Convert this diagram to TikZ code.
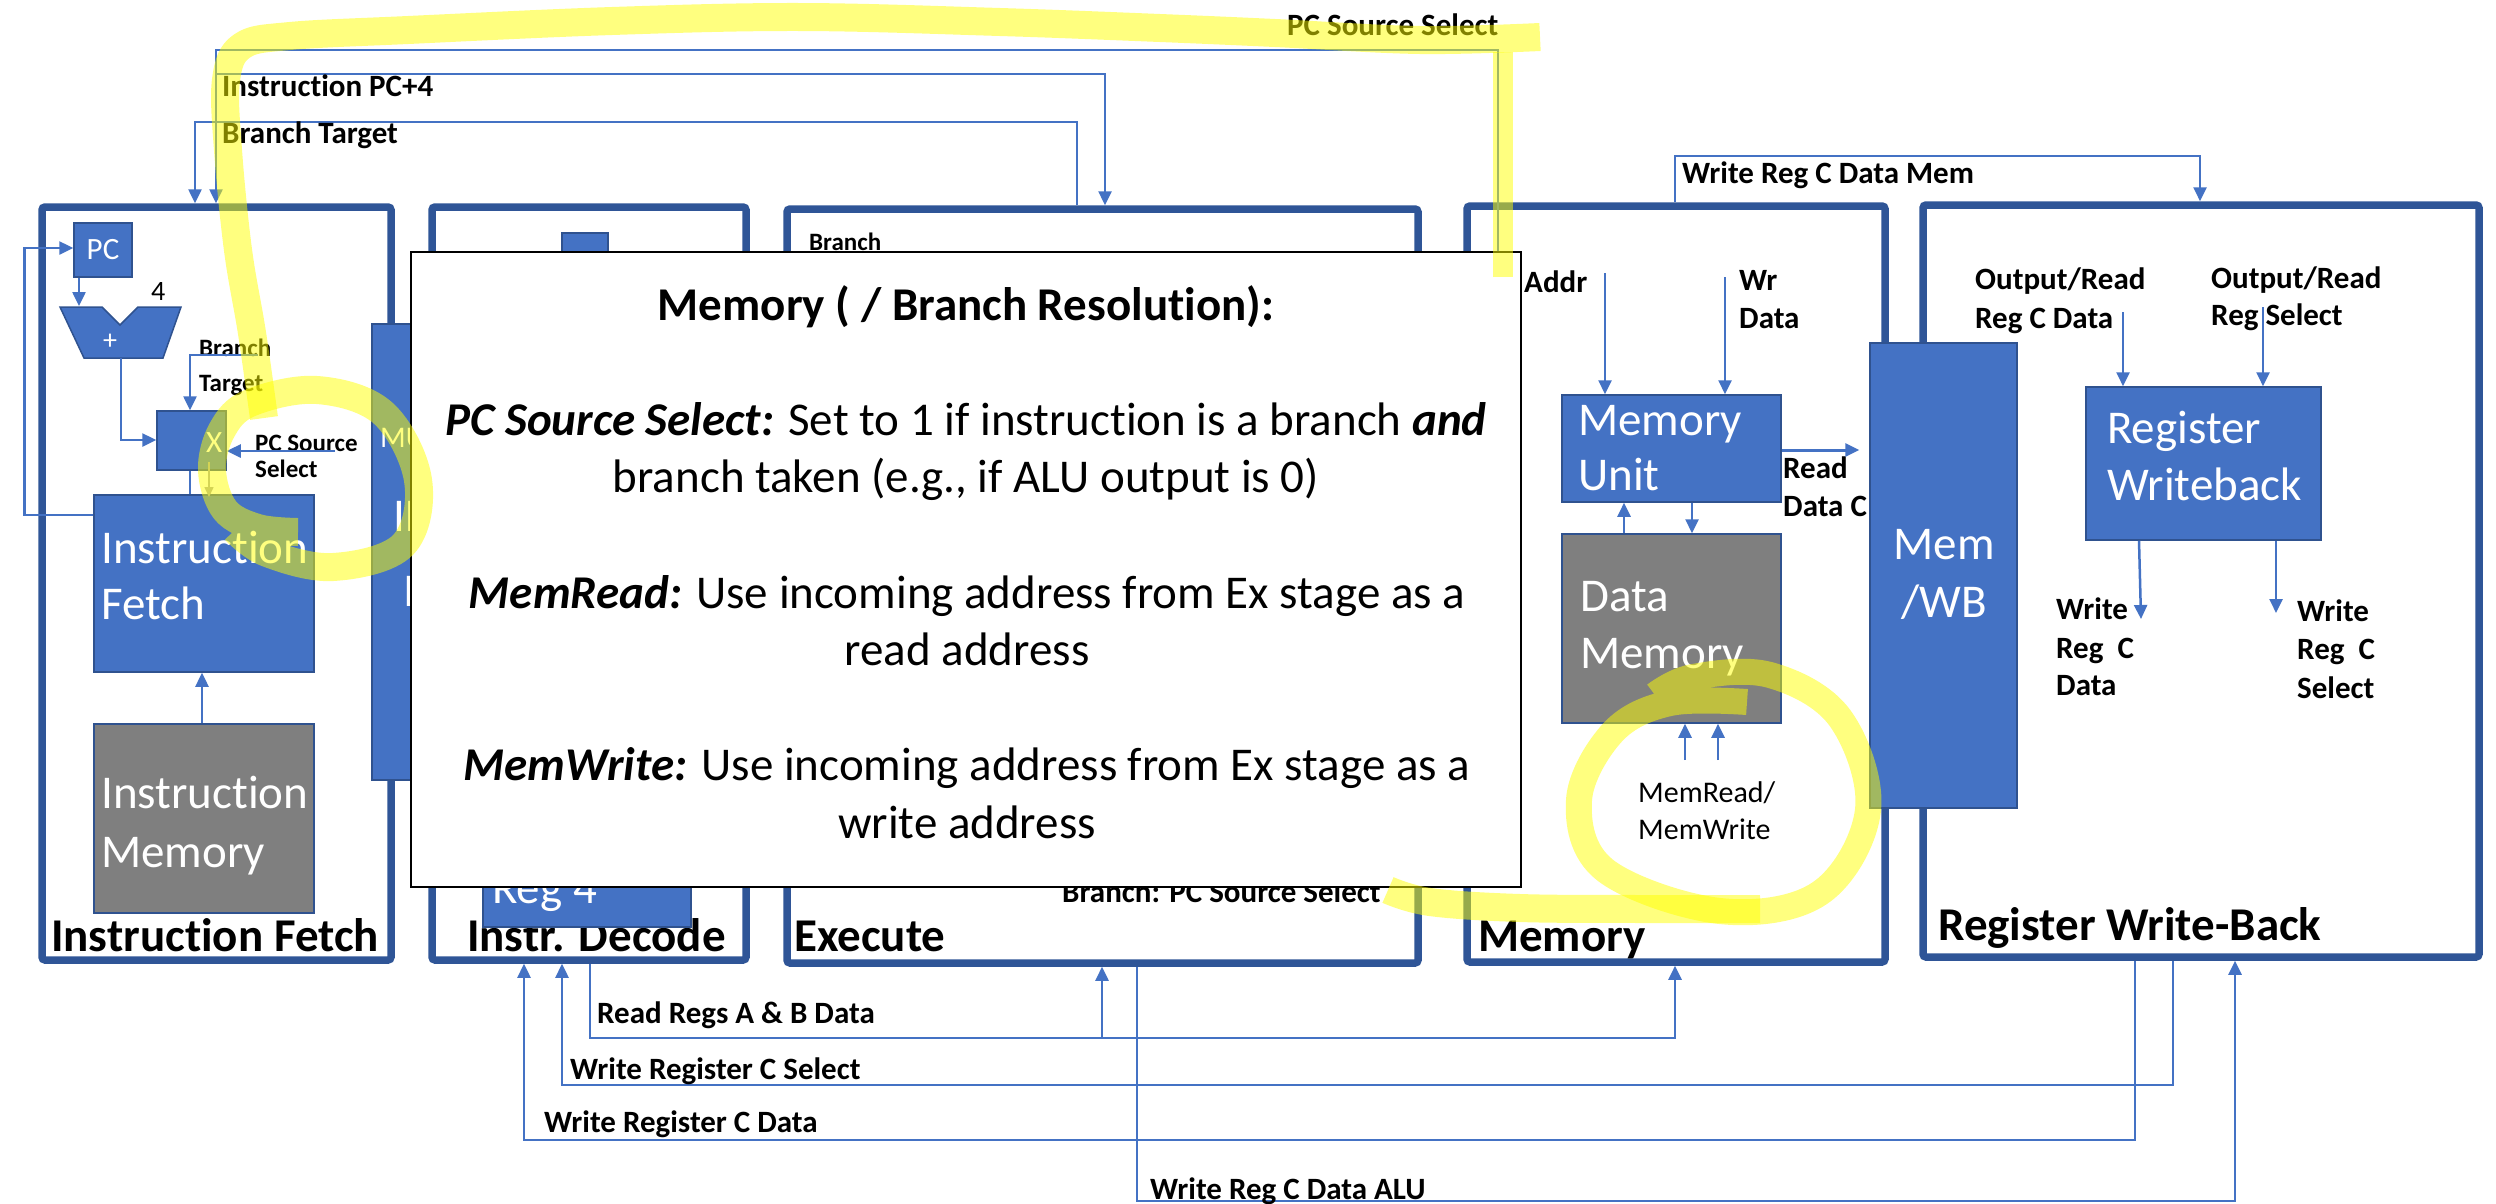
\documentclass[tikz,border=0pt]{standalone}
\usepackage{fontspec}
\setmainfont{Carlito}[Ligatures=NoCommon]
\usetikzlibrary{arrows.meta}

\definecolor{wireblue}{HTML}{4472C4}
\definecolor{stageblue}{HTML}{2F5597}
\definecolor{blockfill}{HTML}{4472C4}
\definecolor{blockedge}{HTML}{2F528F}
\definecolor{memgray}{HTML}{7F7F7F}
\definecolor{hiyellow}{HTML}{FFFF00}
\definecolor{faint}{HTML}{AAAAAA}

\newcommand{\fsBig}{\fontsize{47pt}{56pt}\selectfont}
\newcommand{\fsLbl}{\fontsize{31pt}{38pt}\selectfont}
\newcommand{\fsSmall}{\fontsize{25pt}{30pt}\selectfont}
\newcommand{\fsMR}{\fontsize{30pt}{37pt}\selectfont}

\begin{document}
\begin{tikzpicture}[x=1pt, y=-1pt,
  stagebox/.style={draw=stageblue, line width=7.5pt, rounded corners=3pt, inner sep=0pt},
  blockbox/.style={fill=blockfill, draw=blockedge, line width=1.5pt, inner sep=0pt},
  graybox/.style={fill=memgray, draw=blockedge, line width=1.5pt, inner sep=0pt},
  sig/.style={draw=wireblue, line width=2.5pt},
  arr/.style={sig, -{Triangle[length=14pt,width=13pt]}},
  lbl/.style={anchor=base west, inner sep=0pt, font=\fsLbl\bfseries},
  sml/.style={anchor=base west, inner sep=0pt, font=\fsSmall\bfseries},
  stagelbl/.style={anchor=base west, inner sep=0pt, font=\fsBig\bfseries},
  blktxt/.style={anchor=base west, inner sep=0pt, font=\fsBig, text=white},
  poptxt/.style={anchor=base, inner sep=0pt, font=\fsBig},
  hilite/.style={draw=hiyellow, draw opacity=0.5, line width=#1, line cap=butt, line join=round},
]
\useasboundingbox (0,0) rectangle (2496,1203);
\fill[white] (0,0) rectangle (2496,1203);

% ---------- pipeline stage frames ----------
\node[stagebox, minimum width=349pt, minimum height=753pt] (ifs) at (216.5,583.5) {};
\node[stagebox, minimum width=314pt, minimum height=753pt] (ids) at (589,583.5) {};
\node[stagebox, minimum width=631pt, minimum height=754pt] (exs) at (1102.5,586) {};
\node[stagebox, minimum width=418pt, minimum height=756pt] (mes) at (1676,584) {};
\node[stagebox, minimum width=556pt, minimum height=752pt] (wbs) at (2201,581) {};

\node[stagelbl] (ifslbl) at (51,951) {Instruction Fetch};
\node[stagelbl] (idslbl) at (467,951) {Instr. Decode};
\node[stagelbl] (exslbl) at (794,951) {Execute};
\node[stagelbl] (meslbl) at (1478,951) {Memory};
\node[stagelbl] (wbslbl) at (1938,940) {Register Write-Back};

% ---------- instruction fetch ----------
\node[blockbox, minimum width=58pt, minimum height=54pt, text=white, font=\fsLbl] (pc) at (103,250) {PC};
\draw[blockbox] (60,307) -- (102,307) -- (120,325) -- (138,307) -- (181,307) -- (163,358) -- (84,358) -- cycle;
\coordinate (adder) at (121,332);
\node[text=white, font=\fontsize{28pt}{34pt}\selectfont, inner sep=0pt] (plus) at (110,342) {+};
\node[anchor=base west, inner sep=0pt, font=\fontsize{28pt}{34pt}\selectfont] (four) at (151,300) {4};
\node[blockbox, minimum width=69pt, minimum height=59pt] (mux) at (191.5,440.5) {};
\node[anchor=base west, inner sep=0pt, text=white, font=\fsLbl] (muxx) at (206,452) {X};
\node[blockbox, minimum width=220pt, minimum height=177pt] (ifblk) at (204,583.5) {};
\node[blktxt] (ifblk1) at (101,563) {Instruction};
\node[blktxt] (ifblk2) at (101,619) {Fetch};
\node[graybox, minimum width=220pt, minimum height=189pt] (imem) at (204,818.5) {};
\node[blktxt] (imem1) at (101,808) {Instruction};
\node[blktxt] (imem2) at (101,867) {Memory};

\node[sml] (brlbl1) at (199,356) {Branch};
\node[sml] (brlbl2) at (199,391) {Target};
\node[sml] (pcslbl1) at (255,451) {PC Source};
\node[sml] (pcslbl2) at (255,477) {Select};

\draw[arr] (ifblk.west |- 0,515) -- (24.5,515) -- (24.5,248) -- (pc.west |- 0,248);
\draw[arr] (79,0 |- pc.south) -- (79,306);
\draw[arr] (121,358) -- (121,440) -- (mux.west |- 0,440);
\draw[arr] (258,355) -- (190,355) -- (190,0 |- mux.north);
\draw[arr] (335,451) -- (mux.east |- 0,451);
\draw[sig] (190,0 |- mux.south) -- (190,0 |- ifblk.north);
\draw[draw=faint, line width=1.5pt, -{Triangle[length=10pt,width=9pt]}] (209,462) -- (209,497);
\draw[arr] (202,0 |- imem.north) -- (202,0 |- ifblk.south);

% ---------- instruction decode ----------
\node[blockbox, minimum width=58pt, minimum height=456pt] (ifid) at (401,552) {};
\node[anchor=base west, inner sep=0pt, text=white, font=\fsMR] (ifid1) at (380,447) {MUX};
\node[anchor=base west, inner sep=0pt, text=white, font=\fsBig] (ifid2) at (393,531) {IF};
\node[anchor=base west, inner sep=0pt, text=white, font=\fsBig] (ifid3) at (403,606) {ID};
\node[blockbox, minimum width=46pt, minimum height=70pt] (idtop) at (585,268) {};
\node[blockbox, minimum width=208pt, minimum height=140pt] (reg4) at (587,857) {};
\node[blktxt] (reg4t) at (492,903) {Reg 4};

% ---------- execute ----------
\node[sml] (exbr) at (809,250) {Branch};
\node[lbl] (exbrpc) at (1062,902) {Branch: PC Source Select};

% ---------- memory ----------
\node[blockbox, minimum width=219pt, minimum height=107pt] (memunit) at (1671.5,448.5) {};
\node[blktxt] (mu1) at (1578,435) {Memory};
\node[blktxt] (mu2) at (1578,490) {Unit};
\node[graybox, minimum width=219pt, minimum height=189pt] (dmem) at (1671.5,628.5) {};
\node[blktxt] (dm1) at (1580,611) {Data};
\node[blktxt] (dm2) at (1580,668) {Memory};
\node[lbl] (addr) at (1524,292) {Addr};
\node[lbl] (wr1) at (1739,290) {Wr};
\node[lbl] (wr2) at (1739,328) {Data};
\node[lbl] (rd1) at (1783,478) {Read};
\node[lbl] (rd2) at (1783,516) {Data C};
\node[anchor=base west, inner sep=0pt, font=\fsMR] (mrw1) at (1638,802) {MemRead/};
\node[anchor=base west, inner sep=0pt, font=\fsMR] (mrw2) at (1638,839) {MemWrite};

\draw[arr] (1605,273) -- (1605,0 |- memunit.north);
\draw[arr] (1725,277) -- (1725,0 |- memunit.north);
\draw[arr] (1624,0 |- dmem.north) -- (1624,0 |- memunit.south);
\draw[arr] (1692,0 |- memunit.south) -- (1692,0 |- dmem.north);
\draw[arr] (1685,760) -- (1685,0 |- dmem.south);
\draw[arr] (1718,760) -- (1718,0 |- dmem.south);

% ---------- MEM/WB register and write-back ----------
\node[blockbox, minimum width=147pt, minimum height=465pt] (memwb) at (1943.5,575.5) {};
\node[anchor=base, inner sep=0pt, text=white, font=\fsBig] (mw1) at (1944,559) {Mem};
\node[anchor=base, inner sep=0pt, text=white, font=\fsBig] (mw2) at (1944,617) {/WB};
\draw[arr, line width=3pt, shorten >=10pt] (memunit.east |- 0,450) -- (memwb.west |- 0,450);

\node[blockbox, minimum width=235pt, minimum height=153pt] (regwb) at (2203.5,463.5) {};
\node[blktxt] (rw1) at (2107,443) {Register};
\node[blktxt] (rw2) at (2107,500) {Writeback};
\node[lbl] (or1) at (1975,289) {Output/Read};
\node[lbl] (or2) at (1975,328) {Reg C Data};
\node[lbl] (os1) at (2211,288) {Output/Read};
\node[lbl] (os2) at (2211,325) {Reg Select};
\draw[arr] (2123,312) -- (2123,0 |- regwb.north);
\draw[arr] (2263,307) -- (2263,0 |- regwb.north);
\draw[arr] (2139,0 |- regwb.south) -- (2141,619);
\draw[arr] (2276,0 |- regwb.south) -- (2276,613);
\node[lbl] (wd1) at (2056,619) {Write};
\node[lbl] (wd2) at (2056,658) {Reg~~C};
\node[lbl] (wd3) at (2056,695) {Data};
\node[lbl] (ws1) at (2297,621) {Write};
\node[lbl] (ws2) at (2297,659) {Reg~~C};
\node[lbl] (ws3) at (2297,698) {Select};

% ---------- top feedback buses ----------
\draw[arr] (1498,0 |- memunit.north) -- (1498,50) -- (216,50) -- (216,0 |- ifs.north);
\draw[arr] (216,74) -- (1105,74) -- (1105,0 |- exs.north);
\draw[arr] (1077,0 |- exs.north) -- (1077,122) -- (195,122) -- (195,0 |- ifs.north);
\node[lbl] (pcsel) at (1287,35) {PC Source Select};
\node[lbl] (pc4) at (222,96) {Instruction PC+4};
\node[lbl] (brt) at (222,143) {Branch Target};
\draw[arr] (1675,0 |- mes.north) -- (1675,156) -- (2200,156) -- (2200,0 |- wbs.north);
\node[lbl] (wrmem) at (1682,183) {Write Reg C Data Mem};

% ---------- bottom buses ----------
\draw[arr] (2135,0 |- wbs.south) -- (2135,1140) -- (524,1140) -- (524,0 |- ids.south);
\draw[arr] (2173,0 |- wbs.south) -- (2173,1085) -- (562,1085) -- (562,0 |- ids.south);
\draw[arr] (590,0 |- ids.south) -- (590,1038) -- (1675,1038) -- (1675,0 |- mes.south);
\draw[arr] (1102,1038) -- (1102,0 |- exs.south);
\draw[arr] (1137,0 |- exs.south) -- (1137,1201) -- (2235,1201) -- (2235,0 |- wbs.south);
\node[lbl] (rab) at (597,1023) {Read Regs A \& B Data};
\node[lbl] (wrcs) at (570,1079) {Write Register C Select};
\node[lbl] (wrcd) at (544,1132) {Write Register C Data};
\node[lbl] (wralu) at (1150,1199) {Write Reg C Data ALU};

% ---------- explanation panel ----------
\node[draw=black, fill=white, line width=2.5pt, minimum width=1110pt, minimum height=635pt, inner sep=0pt] (popup) at (966,569.5) {};
\node[poptxt, font=\fsBig\bfseries] (ptitle) at (966,320) {Memory ( / Branch Resolution):};
\node[poptxt] (pl1) at (966,435) {\textbf{\textit{PC Source Select:}} Set to 1 if instruction is a branch \textbf{\textit{and}}};
\node[poptxt] (pl2) at (966,492) {branch taken (e.g., if ALU output is 0)};
\node[poptxt] (pl3) at (967,608) {\textbf{\textit{MemRead:}} Use incoming address from Ex stage as a};
\node[poptxt] (pl4) at (967,665) {read address};
\node[poptxt] (pl5) at (967,780) {\textbf{\textit{MemWrite:}} Use incoming address from Ex stage as a};
\node[poptxt] (pl6) at (967,838) {write address};

% ---------- highlighter marks ----------
\draw[hilite=28pt] plot[smooth, tension=0.6] coordinates {(1540,37) (1420,40) (1275,33) (1160,28) (1000,22) (800,17) (612,21) (408,30) (290,36) (242,46) (226,80) (228,150) (238,250) (252,333) (264,418)};
\draw[hilite=20pt] (1503,277) -- (1503,52);
\draw[hilite=28pt] plot[smooth, tension=0.6] coordinates {(298,532) (258,528) (225,510) (212,470) (222,430) (250,403) (317,390) (383,413) (418,480) (403,545) (333,567) (267,553) (235,530)};
\draw[hilite=28pt] plot[smooth, tension=0.6] coordinates {(1388,890) (1430,902) (1520,908) (1640,909) (1760,909)};
\draw[hilite=26pt] plot[smooth, tension=0.6] coordinates {(1747,702) (1670,703) (1613,732) (1579,800) (1605,870) (1720,911) (1820,893) (1868,810) (1840,718) (1770,675) (1693,677) (1655,695)};
\end{tikzpicture}
\end{document}
